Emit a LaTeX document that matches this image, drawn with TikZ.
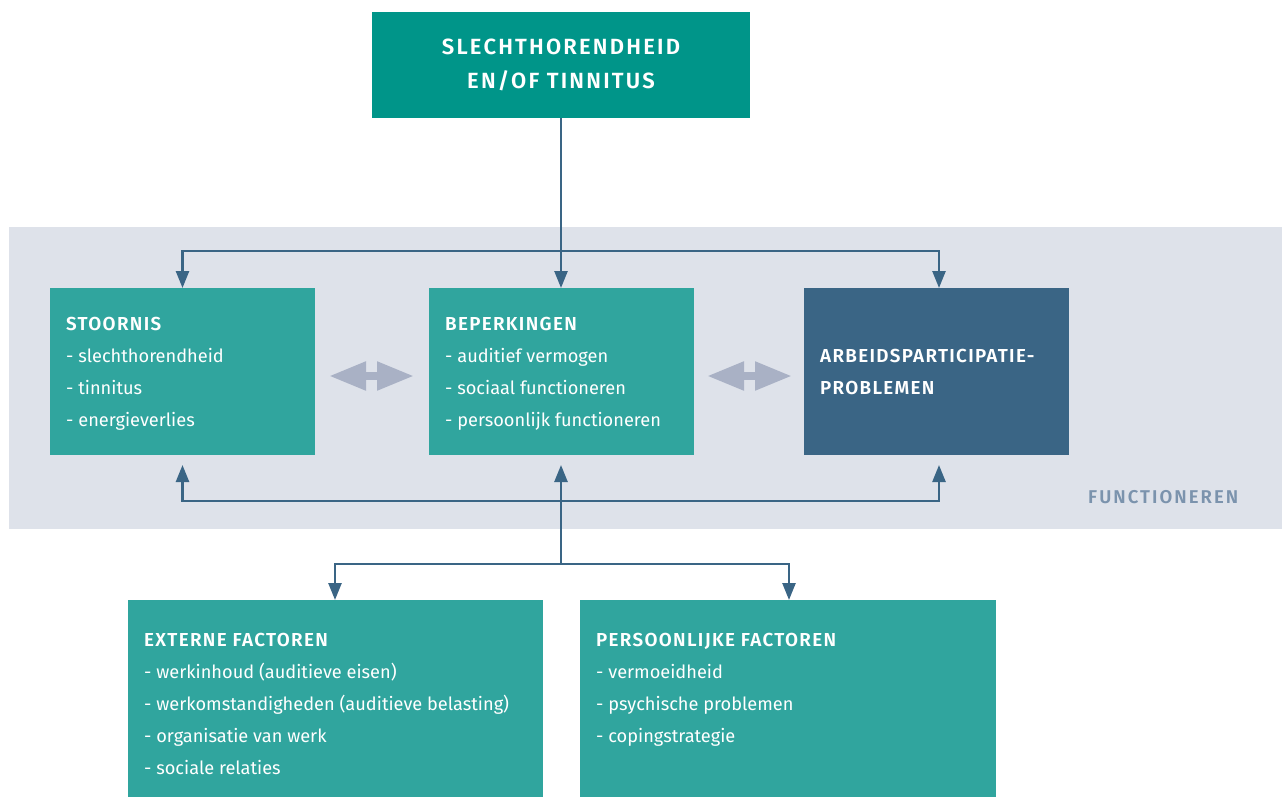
\documentclass[tikz,border=0pt]{standalone}
\usepackage{fontspec}
\setmainfont{Fira Sans}
\newfontfamily\hdfam[LetterSpace=7]{Fira Sans SemiBold}
\newfontfamily\labfam[LetterSpace=11]{Fira Sans SemiBold}
\newfontfamily\topfam[LetterSpace=10]{Fira Sans SemiBold}
\usetikzlibrary{arrows.meta}
\definecolor{topgreen}{RGB}{0,149,137}
\definecolor{teal}{RGB}{48,165,158}
\definecolor{darkblue}{RGB}{58,101,133}
\definecolor{band}{RGB}{222,226,234}
\definecolor{grayarrow}{RGB}{169,177,197}
\definecolor{labelblue}{RGB}{123,147,173}
\tikzset{
  box/.style={anchor=north west, inner sep=0, outer sep=0, draw=none},
  hd/.style={anchor=base west, inner sep=0, text=white, font=\hdfam\fontsize{18.8}{22}\selectfont},
  itm/.style={anchor=base west, inner sep=0, text=white, font=\fontsize{18.2}{22}\selectfont},
  toptxt/.style={anchor=base, inner sep=0, text=white, font=\topfam\fontsize{22}{26}\selectfont},
  conn/.style={draw=darkblue, line width=2.5pt},
  tip/.style={-{Triangle[length=17pt,width=13pt]}},
  dbl/.style={draw=grayarrow, line width=8pt, {Triangle[length=37pt,width=27pt]}-{Triangle[length=37pt,width=27pt]}}
}
\begin{document}
\begin{tikzpicture}[x=1pt,y=-1pt]
\useasboundingbox (0,0) rectangle (1282,798);
% band
\fill[band] (9,227) rectangle (1282,529);
\node[anchor=base west, inner sep=0, text=labelblue, font=\labfam\fontsize{18.5}{20}\selectfont] (lab) at (1088,503) {FUNCTIONEREN};
% boxes
\node[box, fill=topgreen, minimum width=378pt, minimum height=106pt] (top) at (372,12) {};
\node[box, fill=teal, minimum width=265pt, minimum height=167pt] (st) at (50,288) {};
\node[box, fill=teal, minimum width=265pt, minimum height=167pt] (be) at (429,288) {};
\node[box, fill=darkblue, minimum width=265pt, minimum height=167pt] (ar) at (804,288) {};
\node[box, fill=teal, minimum width=415pt, minimum height=197pt] (ex) at (128,600) {};
\node[box, fill=teal, minimum width=416pt, minimum height=197pt] (pe) at (580,600) {};
% texts
\node[toptxt] (t1) at (561,54) {SLECHTHORENDHEID};
\node[toptxt] (t2) at (561,88) {EN/OF TINNITUS};

\node[hd] (s0) at (66,330) {STOORNIS};
\node[itm] (s1) at (66,362) {- slechthorendheid};
\node[itm] (s2) at (66,394) {- tinnitus};
\node[itm] (s3) at (66,426) {- energieverlies};

\node[hd] (b0) at (445,330) {BEPERKINGEN};
\node[itm] (b1) at (445,362) {- auditief vermogen};
\node[itm] (b2) at (445,394) {- sociaal functioneren};
\node[itm] (b3) at (445,426) {- persoonlijk functioneren};

\node[hd] (a0) at (820,362) {ARBEIDSPARTICIPATIE-};
\node[hd] (a1) at (820,394) {PROBLEMEN};

\node[hd] (e0) at (144,646) {EXTERNE FACTOREN};
\node[itm] (e1) at (144,678) {- werkinhoud (auditieve eisen)};
\node[itm] (e2) at (144,710) {- werkomstandigheden (auditieve belasting)};
\node[itm] (e3) at (144,742) {- organisatie van werk};
\node[itm] (e4) at (144,774) {- sociale relaties};

\node[hd] (p0) at (596,646) {PERSOONLIJKE FACTOREN};
\node[itm] (p1) at (596,678) {- vermoeidheid};
\node[itm] (p2) at (596,710) {- psychische problemen};
\node[itm] (p3) at (596,742) {- copingstrategie};
% connectors
\coordinate (j1) at (top.south |- 0,251);
\coordinate (j2) at (top.south |- 0,501);
\coordinate (j3) at (top.south |- 0,564);
\draw[conn, tip] (top.south) -- (top.south |- be.north);
\draw[conn, tip] (j1) -| (st.north);
\draw[conn, tip] (j1) -| ([xshift=2.5pt]ar.north);
\draw[conn, tip] (j3) -- ([yshift=-10pt]j3 |- be.south);
\draw[conn, tip] (j2) -| ([yshift=-10pt]st.south);
\draw[conn, tip] (j2) -| ([xshift=2.5pt,yshift=-10pt]ar.south);
\draw[conn, tip] (j3) -| ([xshift=-0.5pt]ex.north);
\draw[conn, tip] (j3) -| ([xshift=1pt]pe.north);
% double arrows
\draw[dbl] ([xshift=14pt,yshift=-4.5pt]st.east) -- ([xshift=-15pt,yshift=-4.5pt]be.west);
\draw[dbl] ([xshift=13pt,yshift=-4.5pt]be.east) -- ([xshift=-12pt,yshift=-4.5pt]ar.west);
\end{tikzpicture}
\end{document}
